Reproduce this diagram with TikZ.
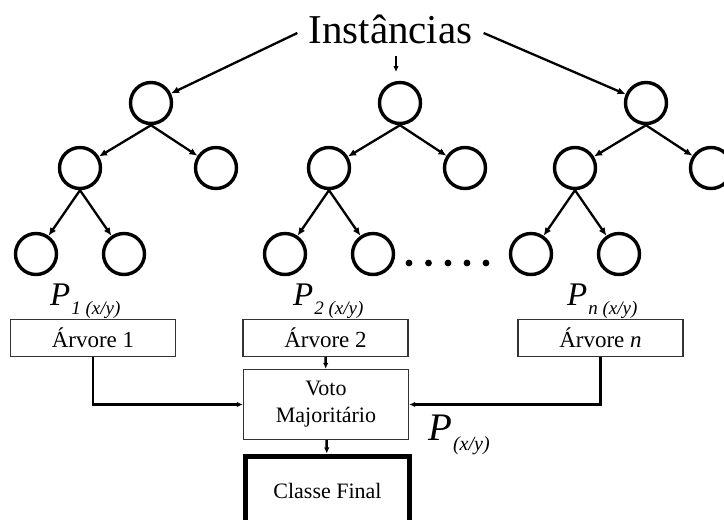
\documentclass[tikz,border=0pt]{standalone}
\usepackage{fontspec}
\setmainfont{Liberation Serif}
\usetikzlibrary{arrows.meta}
\begin{document}
\begin{tikzpicture}[x=1pt,y=-1pt,
  treenode/.style={circle, draw, line width=3.4pt, minimum size=41pt, inner sep=0pt},
  treearrow/.style={line width=2.3pt, -{Latex[length=8pt,width=7pt]}},
  flowarrow/.style={line width=2.5pt, -{Latex[length=6pt,width=5.5pt]}},
  treebox/.style={draw=black!80, line width=1.4pt, minimum width=165pt, minimum height=37pt,
    inner sep=0pt, font=\fontsize{23}{23}\selectfont},
  plabel/.style={anchor=base west, inner sep=0pt, font=\fontsize{33}{33}\selectfont\itshape}
]
\useasboundingbox (0,0) rectangle (724,520);
\clip (0,0) rectangle (724,520);

% title
\node[inner xsep=11pt, inner ysep=5pt, text height=34pt, text depth=8pt,
      font=\fontsize{41}{41}\selectfont] (inst) at (390.5,30) {Instâncias};

% three decision trees
\foreach \i/\x in {1/151, 2/400, 3/646} {
  \node[treenode] (r\i)  at (\x,103) {};
  \node[treenode] (l\i)  at (\x-71,168) {};
  \node[treenode] (rr\i) at (\x+65,168) {};
  \node[treenode] (ll\i) at (\x-115,254) {};
  \node[treenode] (lr\i) at (\x-27,254) {};
  \draw[treearrow] (r\i.south) -- (l\i);
  \draw[treearrow] (r\i.south) -- (rr\i);
  \draw[treearrow] (l\i.south) -- (ll\i);
  \draw[treearrow] (l\i.south) -- (lr\i);
}

% instances fed to the trees
\coordinate (t2in) at (396,72);
\draw[treearrow] ([yshift=-3pt]inst.west) -- (r1);
\draw[treearrow] ([yshift=-3pt]inst.east) -- (r3);
\draw[line width=2pt, -{Latex[length=6pt,width=5.5pt]}] ([xshift=5.5pt]inst.south) -- (t2in);

% ellipsis between trees
\foreach \k/\dx in {1/409, 2/428.5, 3/448, 4/467, 5/486}
  \fill (\dx,263) circle (3.4pt) coordinate (dot\k);

% per-tree predictions
\node[plabel] (p1) at (50,305) {P\raisebox{-9pt}{\fontsize{19}{19}\selectfont\kern1pt 1 (x/y)}};
\node[plabel] (p2) at (293,305) {P\raisebox{-9pt}{\fontsize{19}{19}\selectfont\kern1pt 2 (x/y)}};
\node[plabel] (pn) at (567,305) {P\raisebox{-9pt}{\fontsize{19}{19}\selectfont\kern1pt n (x/y)}};

% tree result boxes
\node[treebox] (a1) at (93,338) {Árvore 1};
\node[treebox] (a2) at (325.5,338) {Árvore 2};
\node[treebox] (an) at (600.5,338) {Árvore \textit{n}};

% majority vote
\node[draw=black!80, line width=1.4pt, minimum width=165pt, minimum height=70pt, inner sep=0pt,
      align=center, font=\fontsize{22}{27}\selectfont] (voto) at (326,404.5) {Voto\\Majoritário};

% final class
\node[draw, line width=5pt, minimum width=164pt, anchor=north, inner sep=0pt,
      text height=42.5pt, text depth=40pt, font=\fontsize{22}{22}\selectfont]
      (final) at (327.5,453.5) {Classe Final};

\draw[flowarrow] (a1.south) |- (voto.west);
\draw[flowarrow] (an.south) |- (voto.east);
\draw[flowarrow] (a2) -- (voto);
\draw[flowarrow] (voto) -- (final);

% combined prediction
\node[anchor=base west, inner sep=0pt, font=\fontsize{39}{39}\selectfont\itshape] (pf) at (428,440)
  {P\raisebox{-10pt}{\fontsize{20}{20}\selectfont\kern1pt (x/y)}};
\end{tikzpicture}
\end{document}
